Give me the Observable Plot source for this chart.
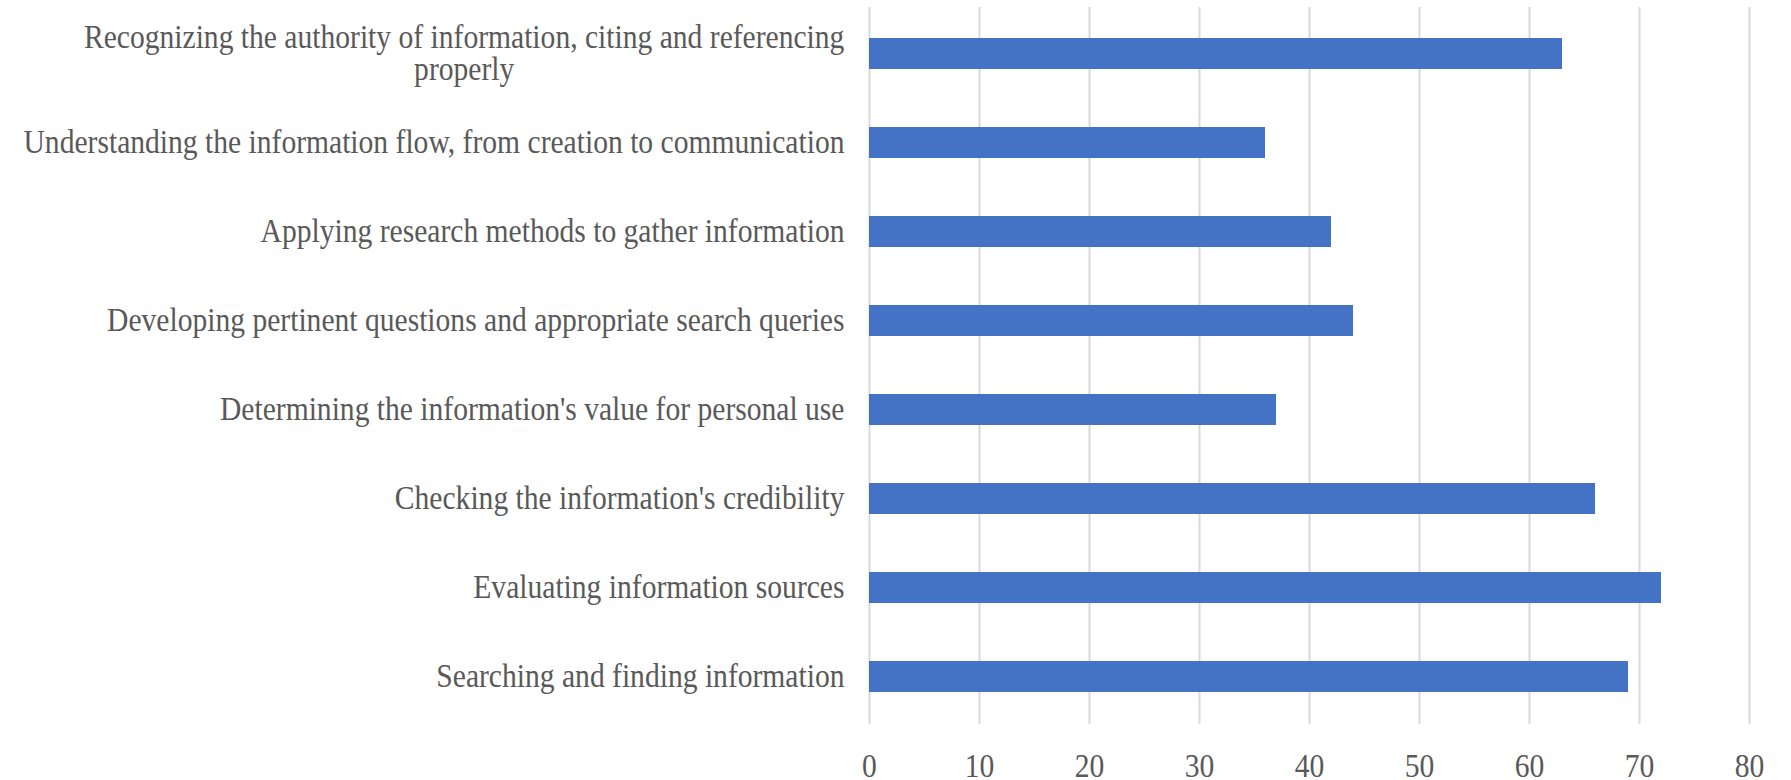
<!DOCTYPE html>
<html>
<head>
<meta charset="utf-8">
<script src="https://cdn.jsdelivr.net/npm/d3@7"></script>
<script src="https://cdn.jsdelivr.net/npm/@observablehq/plot@0.6"></script>
<style>
  html, body { margin: 0; padding: 0; background: #fff; }
  #chart { width: 1791px; height: 780px; overflow: hidden; }
</style>
</head>
<body>
<div id="chart"></div>
<script>
// ---- Data (top to bottom as in the reference) ----
const categories = [
  "Recognizing the authority of information, citing and referencing properly",
  "Understanding the information flow, from creation to communication",
  "Applying research methods to gather information",
  "Developing pertinent questions and appropriate search queries",
  "Determining the information's value for personal use",
  "Checking the information's credibility",
  "Evaluating information sources",
  "Searching and finding information"
];
const values = [63, 36, 42, 44, 37, 66, 72, 69];
const xTicks = [0, 10, 20, 30, 40, 50, 60, 70, 80];
const wrappedLabels = {
  "Recognizing the authority of information, citing and referencing properly":
    "Recognizing the authority of information, citing and referencing\nproperly"
};

const data = categories.map((c, i) => ({category: c, value: values[i]}));

const TEXT_SCALE_X = 0.87;

const chart = Plot.plot({
  width: 1791,
  height: 780,
  marginLeft: 869,
  marginRight: 42,
  marginTop: 7,
  marginBottom: 56,
  style: {
    fontFamily: "'Liberation Serif', 'Times New Roman', serif",
    fontSize: "34px",
    color: "#595959",
    background: "#ffffff"
  },
  x: {domain: [0, 80], ticks: xTicks},
  y: {domain: categories, paddingInner: 0.65, paddingOuter: 0.325},
  marks: [
    Plot.gridX(xTicks, {stroke: "#d9d9d9", strokeWidth: 2, strokeOpacity: 1}),
    Plot.barX(data, {x: "value", y: "category", fill: "#4472C4"}),
    Plot.axisX({ticks: xTicks, tickSize: 0, tickPadding: 28, label: null, fontSize: 34, fill: "#595959"}),
    Plot.axisY({tickSize: 0, tickPadding: 25, label: null, fontSize: 34, lineHeight: 0.94,
      fill: "#595959", tickFormat: d => wrappedLabels[d] ?? d})
  ]
});

document.getElementById("chart").appendChild(chart);

// Post-process: centre multi-line label block, then condense glyphs horizontally
const root = chart.tagName.toLowerCase() === "svg" ? chart : chart.querySelector("svg");
const svg = d3.select(root);
svg.selectAll("g[aria-label='y-axis tick label'] text").each(function() {
  const t = d3.select(this);
  const spans = t.selectAll("tspan");
  if (spans.size() > 1) {
    const w = spans.nodes()[0].getComputedTextLength();
    t.attr("text-anchor", "middle");
    spans.attr("x", -w / 2);
  }
});
svg.selectAll("g[aria-label='y-axis tick label'] text, g[aria-label='x-axis tick label'] text").each(function() {
  const t = d3.select(this);
  const x = parseFloat(t.attr("x")) || 0;
  const tr = t.attr("transform") || "";
  t.attr("transform", `${tr} translate(${x},0) scale(${TEXT_SCALE_X},1) translate(${-x},0)`);
});
</script>
</body>
</html>
